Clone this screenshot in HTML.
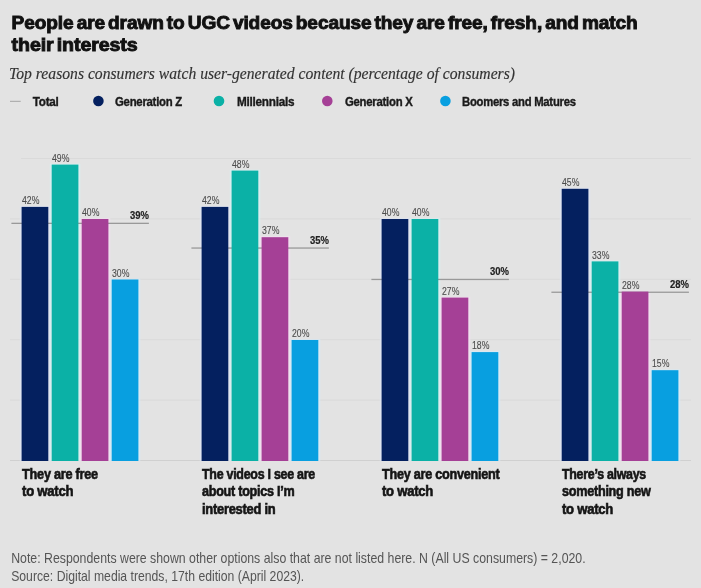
<!DOCTYPE html>
<html lang="en"><head><meta charset="utf-8"><title>UGC videos chart</title>
<style>html,body{margin:0;padding:0;background:#e3e3e3}svg{display:block}
text{font-family:"Liberation Sans",sans-serif}
.t{font-weight:700;font-size:18px;fill:#111;stroke:#111;stroke-width:.9px;stroke-linejoin:miter;letter-spacing:-.1px;word-spacing:-2px}
.s{font-family:"Liberation Serif",serif;font-style:italic;font-size:16.2px;fill:#333;stroke:#333;stroke-width:.15px}
  .l{font-weight:700;font-size:13.3px;fill:#1a1a1a;stroke:#1a1a1a;stroke-width:.4px;letter-spacing:-.3px}
.v{font-size:11.6px;fill:#4c4c4c;stroke:#4c4c4c;stroke-width:.12px}
.tv{font-weight:700;font-size:11.8px;fill:#222;stroke:#222;stroke-width:.2px}
.c{font-weight:700;font-size:14.2px;fill:#151515;stroke:#151515;stroke-width:.6px;letter-spacing:-.3px}
.n{font-size:14.6px;fill:#555}
</style></head><body>
<svg width="701" height="588" viewBox="0 0 701 588">
<rect width="701" height="588" fill="#e3e3e3"/>
<text class="t" x="11.6" y="29.4" textLength="626.0" lengthAdjust="spacingAndGlyphs">People are drawn to UGC videos because they are free, fresh, and match</text>
<text class="t" x="11.6" y="51.4" textLength="126.0" lengthAdjust="spacingAndGlyphs">their interests</text>
<text class="s" x="9.0" y="79.3" textLength="506.0" lengthAdjust="spacingAndGlyphs">Top reasons consumers watch user-generated content (percentage of consumers)</text>
<rect x="10" y="100.8" width="10.7" height="1.1" fill="#aaa"/>
<text class="l" x="32.8" y="106.0" textLength="25.7" lengthAdjust="spacingAndGlyphs">Total</text>
<circle cx="98.4" cy="101" r="5.3" fill="#04205f"/>
<text class="l" x="115.0" y="106.0" textLength="67.0" lengthAdjust="spacingAndGlyphs">Generation Z</text>
<circle cx="219.0" cy="101" r="5.3" fill="#0bb1a6"/>
<text class="l" x="237.0" y="106.0" textLength="57.2" lengthAdjust="spacingAndGlyphs">Millennials</text>
<circle cx="327.3" cy="101" r="5.3" fill="#a54096"/>
<text class="l" x="345.0" y="106.0" textLength="67.5" lengthAdjust="spacingAndGlyphs">Generation X</text>
<circle cx="445.4" cy="101" r="5.3" fill="#089fe0"/>
<text class="l" x="462.0" y="106.0" textLength="113.7" lengthAdjust="spacingAndGlyphs">Boomers and Matures</text>
<rect x="10" y="460.0" width="681" height="1" fill="#d0d0d0"/>
<rect x="10" y="399.6" width="681" height="1" fill="#dadada"/>
<rect x="10" y="339.2" width="681" height="1" fill="#dadada"/>
<rect x="10" y="278.8" width="681" height="1" fill="#dadada"/>
<rect x="10" y="218.4" width="681" height="1" fill="#dadada"/>
<rect x="21" y="158.0" width="670" height="1" fill="#dadada"/>
<rect x="19.8" y="206.0" width="30.5" height="255.0" fill="#dfe5f6" opacity=".65"/>
<rect x="49.8" y="163.7" width="30.5" height="297.3" fill="#d6f3f4" opacity=".65"/>
<rect x="79.8" y="218.1" width="30.5" height="242.9" fill="#f6def2" opacity=".65"/>
<rect x="109.8" y="278.6" width="30.5" height="182.4" fill="#d4ecfb" opacity=".65"/>
<rect x="199.8" y="206.0" width="30.5" height="255.0" fill="#dfe5f6" opacity=".65"/>
<rect x="229.8" y="169.7" width="30.5" height="291.3" fill="#d6f3f4" opacity=".65"/>
<rect x="259.8" y="236.2" width="30.5" height="224.8" fill="#f6def2" opacity=".65"/>
<rect x="289.8" y="339.1" width="30.5" height="121.9" fill="#d4ecfb" opacity=".65"/>
<rect x="379.8" y="218.1" width="30.5" height="242.9" fill="#dfe5f6" opacity=".65"/>
<rect x="409.8" y="218.1" width="30.5" height="242.9" fill="#d6f3f4" opacity=".65"/>
<rect x="439.8" y="296.8" width="30.5" height="164.3" fill="#f6def2" opacity=".65"/>
<rect x="469.8" y="351.2" width="30.5" height="109.8" fill="#d4ecfb" opacity=".65"/>
<rect x="559.8" y="187.8" width="30.5" height="273.1" fill="#dfe5f6" opacity=".65"/>
<rect x="589.8" y="260.5" width="30.5" height="200.5" fill="#d6f3f4" opacity=".65"/>
<rect x="619.8" y="290.7" width="30.5" height="170.3" fill="#f6def2" opacity=".65"/>
<rect x="649.8" y="369.4" width="30.5" height="91.7" fill="#d4ecfb" opacity=".65"/>
<rect x="11.4" y="222.7" width="137.5" height="1.3" fill="#999"/>
<rect x="21.6" y="206.9" width="26.7" height="254.1" fill="#04205f"/>
<text class="v" x="22.0" y="204.0" textLength="17.4" lengthAdjust="spacingAndGlyphs">42%</text>
<rect x="51.7" y="164.6" width="26.7" height="296.4" fill="#0bb1a6"/>
<text class="v" x="52.0" y="161.7" textLength="17.4" lengthAdjust="spacingAndGlyphs">49%</text>
<rect x="81.7" y="219.0" width="26.7" height="242.0" fill="#a54096"/>
<text class="v" x="82.0" y="216.1" textLength="17.4" lengthAdjust="spacingAndGlyphs">40%</text>
<rect x="111.7" y="279.5" width="26.7" height="181.5" fill="#089fe0"/>
<text class="v" x="112.0" y="276.6" textLength="17.4" lengthAdjust="spacingAndGlyphs">30%</text>
<text class="tv" x="148.9" y="218.8" textLength="19.0" lengthAdjust="spacingAndGlyphs" text-anchor="end">39%</text>
<rect x="191.4" y="247.4" width="137.5" height="1.3" fill="#999"/>
<rect x="201.6" y="206.9" width="26.7" height="254.1" fill="#04205f"/>
<text class="v" x="202.0" y="204.0" textLength="17.4" lengthAdjust="spacingAndGlyphs">42%</text>
<rect x="231.6" y="170.6" width="26.7" height="290.4" fill="#0bb1a6"/>
<text class="v" x="232.0" y="167.7" textLength="17.4" lengthAdjust="spacingAndGlyphs">48%</text>
<rect x="261.6" y="237.2" width="26.7" height="223.8" fill="#a54096"/>
<text class="v" x="262.0" y="234.2" textLength="17.4" lengthAdjust="spacingAndGlyphs">37%</text>
<rect x="291.6" y="340.0" width="26.7" height="121.0" fill="#089fe0"/>
<text class="v" x="292.0" y="337.1" textLength="17.4" lengthAdjust="spacingAndGlyphs">20%</text>
<text class="tv" x="328.9" y="243.6" textLength="19.0" lengthAdjust="spacingAndGlyphs" text-anchor="end">35%</text>
<rect x="371.4" y="278.8" width="137.5" height="1.3" fill="#999"/>
<rect x="381.6" y="219.0" width="26.7" height="242.0" fill="#04205f"/>
<text class="v" x="382.0" y="216.1" textLength="17.4" lengthAdjust="spacingAndGlyphs">40%</text>
<rect x="411.6" y="219.0" width="26.7" height="242.0" fill="#0bb1a6"/>
<text class="v" x="412.0" y="216.1" textLength="17.4" lengthAdjust="spacingAndGlyphs">40%</text>
<rect x="441.6" y="297.6" width="26.7" height="163.4" fill="#a54096"/>
<text class="v" x="442.0" y="294.8" textLength="17.4" lengthAdjust="spacingAndGlyphs">27%</text>
<rect x="471.6" y="352.1" width="26.7" height="108.9" fill="#089fe0"/>
<text class="v" x="472.0" y="349.2" textLength="17.4" lengthAdjust="spacingAndGlyphs">18%</text>
<text class="tv" x="508.9" y="274.9" textLength="19.0" lengthAdjust="spacingAndGlyphs" text-anchor="end">30%</text>
<rect x="551.4" y="291.6" width="137.5" height="1.3" fill="#999"/>
<rect x="561.7" y="188.8" width="26.7" height="272.2" fill="#04205f"/>
<text class="v" x="562.0" y="185.8" textLength="17.4" lengthAdjust="spacingAndGlyphs">45%</text>
<rect x="591.7" y="261.4" width="26.7" height="199.6" fill="#0bb1a6"/>
<text class="v" x="592.0" y="258.5" textLength="17.4" lengthAdjust="spacingAndGlyphs">33%</text>
<rect x="621.7" y="291.6" width="26.7" height="169.4" fill="#a54096"/>
<text class="v" x="622.0" y="288.7" textLength="17.4" lengthAdjust="spacingAndGlyphs">28%</text>
<rect x="651.7" y="370.2" width="26.7" height="90.8" fill="#089fe0"/>
<text class="v" x="652.0" y="367.4" textLength="17.4" lengthAdjust="spacingAndGlyphs">15%</text>
<text class="tv" x="688.9" y="287.7" textLength="19.0" lengthAdjust="spacingAndGlyphs" text-anchor="end">28%</text>
<text class="c" x="22.1" y="478.5" textLength="75.8" lengthAdjust="spacingAndGlyphs">They are free</text>
<text class="c" x="22.1" y="496.3" textLength="51.2" lengthAdjust="spacingAndGlyphs">to watch</text>
<text class="c" x="202.0" y="478.5" textLength="113.0" lengthAdjust="spacingAndGlyphs">The videos I see are</text>
<text class="c" x="202.0" y="496.3" textLength="92.4" lengthAdjust="spacingAndGlyphs">about topics I’m</text>
<text class="c" x="202.0" y="514.1" textLength="73.4" lengthAdjust="spacingAndGlyphs">interested in</text>
<text class="c" x="382.0" y="478.5" textLength="117.4" lengthAdjust="spacingAndGlyphs">They are convenient</text>
<text class="c" x="382.0" y="496.3" textLength="51.0" lengthAdjust="spacingAndGlyphs">to watch</text>
<text class="c" x="562.0" y="478.5" textLength="84.0" lengthAdjust="spacingAndGlyphs">There’s always</text>
<text class="c" x="562.0" y="496.3" textLength="88.6" lengthAdjust="spacingAndGlyphs">something new</text>
<text class="c" x="562.0" y="514.1" textLength="51.0" lengthAdjust="spacingAndGlyphs">to watch</text>
<text class="n" x="11.2" y="563.0" textLength="574.4" lengthAdjust="spacingAndGlyphs">Note: Respondents were shown other options also that are not listed here. N (All US consumers) = 2,020.</text>
<text class="n" x="11.2" y="580.5" textLength="293.0" lengthAdjust="spacingAndGlyphs">Source: Digital media trends, 17th edition (April 2023).</text>
</svg></body></html>
